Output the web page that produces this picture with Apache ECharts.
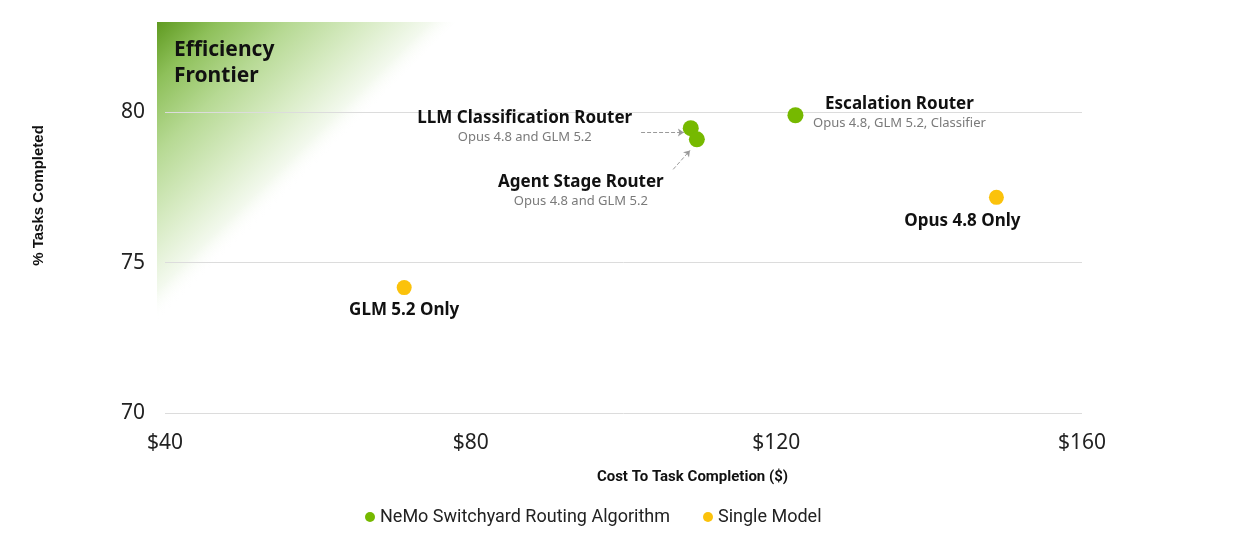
<!DOCTYPE html>
<html>
<head>
<meta charset="utf-8">
<script src="https://cdn.jsdelivr.net/npm/echarts@6/dist/echarts.min.js"></script>
<style>html,body{margin:0;padding:0;background:#fff}#c{width:1250px;height:560px}</style>
</head>
<body>
<div id="c"></div>
<script>
// ---- data ----
const routerNames = ['LLM Classification Router', 'Agent Stage Router', 'Escalation Router'];
const routerSubs = ['Opus 4.8 and GLM 5.2', 'Opus 4.8 and GLM 5.2', 'Opus 4.8, GLM 5.2, Classifier'];
const routerCost = [108.8, 109.6, 122.5];
const routerScore = [79.47, 79.1, 79.9];
const singleNames = ['GLM 5.2 Only', 'Opus 4.8 Only'];
const singleCost = [71.3, 148.8];
const singleScore = [74.17, 77.17];
const xTicks = [40, 80, 120, 160];
const yTicks = [70, 75, 80];
// frontier shaded corner (data coords)
const frontierArea = [[38.95, 83], [78.0, 83], [38.95, 72.9]];
// dashed pointer arrows (data coords) [from, to]
const arrows = [[[102.3, 79.33], [107.9, 79.33]], [[106.5, 78.1], [108.7, 78.73]]];

// ---- presentation ----
const routerOffsets = [[-166, -1], [-116, 52], [104, -2]];
const singleOffsets = [[0, 23], [-34, 24]];

const chart = echarts.init(document.getElementById('c'));
const rich = {
  t: {fontSize: 17, fontWeight: 'bold', color: '#111', lineHeight: 20, align: 'center', fontFamily: 'Noto Sans'},
  s: {fontSize: 13, color: '#7a7a7a', lineHeight: 19, align: 'center', fontFamily: 'Noto Sans'}
};
const routerData = routerCost.map((c, i) => ({
  value: [c, routerScore[i]], name: routerNames[i],
  label: {show: true, position: 'inside', offset: routerOffsets[i],
    formatter: '{t|' + routerNames[i] + '}\n{s|' + routerSubs[i] + '}', rich: rich}
}));
const singleData = singleCost.map((c, i) => ({
  value: [c, singleScore[i]], name: singleNames[i],
  label: {show: true, position: 'inside', offset: singleOffsets[i],
    formatter: '{t|' + singleNames[i] + '}', rich: rich}
}));

chart.setOption({
  animation: false,
  grid: {left: 165, right: 168, top: 22, bottom: 147},
  title: {text: 'Efficiency\nFrontier', left: 174, top: 37, padding: 0,
    textStyle: {fontSize: 21, fontWeight: 'bold', color: '#111', lineHeight: 26, fontFamily: 'Noto Sans'}},
  legend: {left: 360, top: 503, itemWidth: 10, itemHeight: 10, itemGap: 33, icon: 'circle',
    textStyle: {fontSize: 18, color: '#222', fontFamily: 'Roboto'},
    data: ['NeMo Switchyard Routing Algorithm', 'Single Model']},
  xAxis: {type: 'value', min: xTicks[0], max: xTicks[xTicks.length - 1], interval: 40,
    name: 'Cost To Task Completion ($)', nameLocation: 'middle', nameGap: 57,
    nameTextStyle: {fontSize: 15, fontWeight: 'bold', color: '#111', fontFamily: 'Roboto', padding: [0, 0, 0, 138]},
    axisLine: {show: false}, axisTick: {show: false}, splitLine: {show: false},
    axisLabel: {margin: 20, fontSize: 21, color: '#222', fontFamily: 'Noto Sans', formatter: v => '$' + v}},
  yAxis: {type: 'value', min: yTicks[0], max: 83, interval: 5, z: 5,
    name: '% Tasks Completed', nameLocation: 'middle', nameGap: 119, nameRotate: 90,
    nameTextStyle: {fontSize: 15, fontWeight: 'bold', color: '#111', fontFamily: 'Liberation Sans', padding: [0, 0, 0, 44]},
    axisLine: {show: false}, axisTick: {show: false},
    splitLine: {show: true, showMaxLine: false, lineStyle: {color: '#dcdcdc', width: 1}},
    axisLabel: {margin: 20, fontSize: 21, color: '#222', fontFamily: 'Noto Sans', showMaxLabel: false,
      formatter: v => yTicks.indexOf(v) >= 0 ? String(v) : ''}},
  series: [
    {type: 'custom', name: 'frontier', silent: true, clip: false, z: -1,
      data: [0],
      renderItem: function (params, api) {
        const pts = frontierArea.map(p => api.coord(p));
        return {type: 'polygon', shape: {points: pts},
          style: {fill: new echarts.graphic.LinearGradient(0, 0, 1, 1, [
            {offset: 0, color: '#5f9a20'},
            {offset: 0.1, color: '#8ec05a'},
            {offset: 0.22, color: '#b6d993'},
            {offset: 0.35, color: '#d9ecc6'},
            {offset: 0.45, color: '#f3f9ee'},
            {offset: 0.5, color: 'rgba(255,255,255,0)'}
          ])}};
      }},
    {type: 'scatter', name: 'NeMo Switchyard Routing Algorithm', symbolSize: 16, z: 6,
      itemStyle: {color: '#76b900', opacity: 1}, data: routerData,
      markLine: {silent: true, symbol: ['none', 'arrow'], symbolSize: 6, animation: false,
        label: {show: false}, lineStyle: {type: 'dashed', color: '#9a9a9a', width: 1},
        data: arrows.map(a => [{coord: a[0]}, {coord: a[1]}])}},
    {type: 'scatter', name: 'Single Model', symbolSize: 15, z: 6,
      itemStyle: {color: '#fbc20b', opacity: 1}, data: singleData}
  ]
});
</script>
</body>
</html>
